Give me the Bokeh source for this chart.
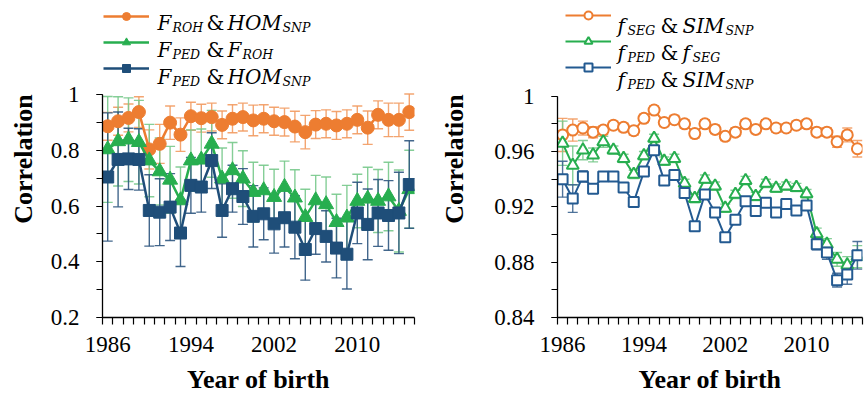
from bokeh.plotting import figure
from bokeh.layouts import row
from bokeh.models import (ColumnDataSource, Whisker, TeeHead, FixedTicker,
                          SingleIntervalTicker, Legend, LegendItem, Label,
                          Range1d, NumeralTickFormatter)
from bokeh.embed import file_html
from bokeh.resources import INLINE

# ---------------- data ----------------
years = list(range(1986, 2016))
x_tick_labels = [1986, 1994, 2002, 2010]

# left panel (correlations with SE)
roh_hom = [0.886, 0.904, 0.916, 0.937, 0.803, 0.823, 0.899, 0.856, 0.922, 0.915,
           0.919, 0.891, 0.913, 0.919, 0.907, 0.913, 0.904, 0.901, 0.885, 0.865,
           0.892, 0.895, 0.889, 0.895, 0.909, 0.881, 0.927, 0.909, 0.909, 0.937]
roh_hom_err = [0.05, 0.05, 0.05, 0.055, 0.07, 0.07, 0.06, 0.06, 0.05, 0.05,
               0.05, 0.05, 0.05, 0.05, 0.055, 0.05, 0.05, 0.05, 0.055, 0.06,
               0.05, 0.05, 0.05, 0.05, 0.05, 0.06, 0.05, 0.06, 0.06, 0.065]
ped_roh = [0.803, 0.832, 0.838, 0.829, 0.763, 0.724, 0.694, 0.620, 0.763, 0.766,
           0.823, 0.698, 0.728, 0.698, 0.650, 0.656, 0.632, 0.668, 0.630, 0.560,
           0.620, 0.606, 0.542, 0.558, 0.618, 0.626, 0.618, 0.634, 0.582, 0.660]
ped_roh_err = [0.19, 0.16, 0.15, 0.15, 0.13, 0.12, 0.12, 0.12, 0.11, 0.11,
               0.12, 0.11, 0.10, 0.10, 0.107, 0.09, 0.10, 0.093, 0.10, 0.10,
               0.09, 0.098, 0.10, 0.116, 0.096, 0.113, 0.113, 0.123, 0.147, 0.14]
ped_hom = [0.704, 0.767, 0.769, 0.767, 0.584, 0.578, 0.596, 0.503, 0.674, 0.668,
           0.763, 0.584, 0.662, 0.634, 0.563, 0.572, 0.536, 0.558, 0.524, 0.444,
           0.519, 0.491, 0.449, 0.427, 0.575, 0.534, 0.575, 0.566, 0.575, 0.677]
ped_hom_err = [0.23, 0.17, 0.11, 0.11, 0.128, 0.12, 0.12, 0.12, 0.10, 0.09,
               0.10, 0.096, 0.084, 0.10, 0.11, 0.093, 0.105, 0.105, 0.113, 0.11,
               0.092, 0.092, 0.107, 0.125, 0.11, 0.127, 0.12, 0.125, 0.146, 0.157]

# right panel
seg_sim = [0.972, 0.9755, 0.977, 0.974, 0.9755, 0.979, 0.9775, 0.975, 0.984, 0.990,
           0.981, 0.983, 0.980, 0.973, 0.980, 0.976, 0.971, 0.974, 0.980, 0.976,
           0.980, 0.977, 0.977, 0.979, 0.980, 0.974, 0.974, 0.967, 0.972, 0.962]
seg_sim_err = [0.012, 0.008, 0.005, 0.004, 0.003, 0.003, 0.003, 0.003, 0.003, 0.003,
               0.003, 0.003, 0.003, 0.003, 0.003, 0.003, 0.003, 0.003, 0.003, 0.003,
               0.003, 0.003, 0.003, 0.003, 0.003, 0.003, 0.003, 0.004, 0.005, 0.006]
ped_seg = [0.966, 0.950, 0.961, 0.9575, 0.967, 0.961, 0.955, 0.9435, 0.957, 0.9695,
           0.953, 0.955, 0.937, 0.926, 0.940, 0.935, 0.919, 0.929, 0.939, 0.9275,
           0.937, 0.9335, 0.935, 0.934, 0.9295, 0.9006, 0.893, 0.882, 0.878, 0.884]
ped_seg_err = [0.016, 0.014, 0.007, 0.005, 0.004, 0.003, 0.003, 0.003, 0.003, 0.003,
               0.003, 0.003, 0.003, 0.003, 0.003, 0.003, 0.003, 0.003, 0.003, 0.003,
               0.003, 0.003, 0.003, 0.003, 0.003, 0.004, 0.004, 0.005, 0.006, 0.008]
ped_sim = [0.940, 0.926, 0.942, 0.933, 0.942, 0.942, 0.934, 0.9235, 0.9455, 0.961,
           0.939, 0.943, 0.930, 0.906, 0.929, 0.916, 0.898, 0.9107, 0.924, 0.917,
           0.923, 0.916, 0.922, 0.9174, 0.921, 0.893, 0.887, 0.867, 0.871, 0.885]
ped_sim_err = [0.013, 0.010, 0.004, 0.003, 0.003, 0.003, 0.003, 0.003, 0.003, 0.003,
               0.003, 0.003, 0.003, 0.003, 0.003, 0.003, 0.003, 0.003, 0.003, 0.003,
               0.003, 0.003, 0.003, 0.003, 0.003, 0.004, 0.005, 0.005, 0.007, 0.010]

ORANGE = "#ED7D31"
GREEN = "#27AE4F"
NAVY = "#1F4E79"
BLUE2 = "#235A91"
TICK_FONT = "Liberation Serif"
LEG_FONT = "DejaVu Serif"


def make_fig(y0, y1, interval, frame, ylab_standoff):
    # frame = (left, right, top of axis (value y1), bottom) in canvas px;
    # the plotting frame extends to the canvas top so the legend can live in it.
    left, right, top, bottom = frame
    y_end = y0 + (y1 - y0) * bottom / (bottom - top)
    p = figure(width=432, height=398, output_backend="svg", toolbar_location=None,
               x_range=Range1d(years[0] - 0.5, years[-1] + 0.5),
               y_range=Range1d(y0, y_end),
               min_border_left=left, min_border_right=432 - right,
               min_border_top=0, min_border_bottom=398 - bottom)
    p.xgrid.visible = False
    p.ygrid.visible = False
    p.outline_line_color = None
    p.background_fill_color = "white"
    p.border_fill_color = "white"
    # x axis
    xa = p.xaxis[0]
    xa.ticker = FixedTicker(ticks=x_tick_labels,
                            minor_ticks=[y - 0.5 for y in years] + [years[-1] + 0.5])
    xa.major_tick_out = 0
    xa.major_tick_in = 0
    xa.minor_tick_out = 7
    xa.minor_tick_in = 0
    xa.axis_label = "Year of birth"
    # y axis
    ya = p.yaxis[0]
    ya.bounds = (y0, y1)
    ya.ticker = SingleIntervalTicker(interval=interval, num_minor_ticks=2)
    ya.formatter = NumeralTickFormatter(format="0.[00]")
    ya.major_tick_out = 6
    ya.major_tick_in = 0
    ya.minor_tick_out = 6
    ya.minor_tick_in = 0
    ya.axis_label = "Correlation"
    for ax in (xa, ya):
        ax.axis_line_color = "black"
        ax.axis_line_width = 1.3
        ax.major_tick_line_color = "black"
        ax.minor_tick_line_color = "black"
        ax.major_tick_line_width = 1.2
        ax.minor_tick_line_width = 1.2
        ax.major_label_text_font = TICK_FONT
        ax.major_label_text_font_size = "23px"
        ax.major_label_text_color = "black"
        ax.axis_label_text_font = TICK_FONT
        ax.axis_label_text_font_size = "26px"
        ax.axis_label_text_font_style = "bold"
        ax.axis_label_text_color = "black"
    xa.major_label_standoff = 12
    xa.axis_label_standoff = 10
    ya.major_label_standoff = 17
    ya.axis_label_standoff = ylab_standoff
    return p


def add_series(p, vals, errs, color, err_color, marker, size, fill, lw, mlw):
    src = ColumnDataSource(dict(x=years, y=vals,
                                lo=[v - e for v, e in zip(vals, errs)],
                                hi=[v + e for v, e in zip(vals, errs)]))
    w = Whisker(source=src, base="x", lower="lo", upper="hi", dimension="height",
                line_color=err_color, line_width=1.4, line_alpha=0.9,
                upper_head=TeeHead(size=10, line_color=err_color, line_width=1.4, line_alpha=0.9),
                lower_head=TeeHead(size=10, line_color=err_color, line_width=1.4, line_alpha=0.9),
                level="underlay")
    p.add_layout(w)
    ln = p.line("x", "y", source=src, line_color=color, line_width=lw)
    sc = p.scatter("x", "y", source=src, marker=marker, size=size,
                   fill_color=fill, line_color=color, line_width=mlw)
    return ln, sc


def add_legend(p, renderers, frame, x_canvas, y_top_canvas):
    left, right, top, bottom = frame
    items = [LegendItem(label=" ", renderers=list(r)) for r in renderers]
    leg = Legend(items=items,
                 location=(x_canvas - left, bottom - (y_top_canvas + 3 * 20 + 2 * 6)),
                 glyph_width=46, glyph_height=20, label_width=0, label_standoff=0,
                 label_height=20, label_text_font_size="1px",
                 padding=0, margin=0, spacing=6,
                 border_line_color=None, background_fill_alpha=0)
    p.add_layout(leg)


def add_text(p, frame, rows):
    left, right, top, bottom = frame
    for baseline, segs in rows:
        for text, xc, kind in segs:
            if kind == "main":
                size, style, dy = "20px", "italic", 0
            elif kind == "sub":
                size, style, dy = "12.5px", "italic", 5
            else:
                size, style, dy = "20px", "normal", 0
            p.add_layout(Label(x=xc - left, y=bottom - (baseline + dy),
                               x_units="screen", y_units="screen", text=text,
                               text_font=LEG_FONT, text_font_style=style,
                               text_font_size=size, text_baseline="alphabetic",
                               text_color="black"))


# ---------------- left panel ----------------
frameL = (102, 414, 94, 317)
pL = make_fig(0.2, 1.0, 0.2, frameL, 10)
rA = add_series(pL, roh_hom, roh_hom_err, ORANGE, "#F29B62", "circle", 13, ORANGE, 2.5, 1)
rB = add_series(pL, ped_roh, ped_roh_err, GREEN, "#78C98C", "triangle", 15, GREEN, 2.5, 1)
rC = add_series(pL, ped_hom, ped_hom_err, NAVY, "#2F5680", "square", 12, NAVY, 2.5, 1)
add_legend(pL, [rA, rB, rC], frameL, 103, 6)
add_text(pL, frameL, [
    (22, [("F", 157, "main"), ("ROH", 172, "sub"), ("&", 206, "amp"), ("HOM", 227, "main"), ("SNP", 282, "sub")]),
    (49, [("F", 157, "main"), ("PED", 172, "sub"), ("&", 206, "amp"), ("F", 227, "main"), ("ROH", 242, "sub")]),
    (76, [("F", 157, "main"), ("PED", 172, "sub"), ("&", 206, "amp"), ("HOM", 227, "main"), ("SNP", 282, "sub")]),
])

# ---------------- right panel ----------------
frameR = (125, 430, 96, 318)
pR = make_fig(0.84, 1.0, 0.04, frameR, 22)
sA = add_series(pR, seg_sim, seg_sim_err, ORANGE, "#F29B62", "circle", 11, "white", 2, 2)
sB = add_series(pR, ped_seg, ped_seg_err, GREEN, "#78C98C", "triangle", 12, "white", 2, 2)
sC = add_series(pR, ped_sim, ped_sim_err, BLUE2, "#3D6590", "square", 10, "white", 2, 2)
add_legend(pR, [sA, sB, sC], frameR, 133, 6)
add_text(pR, frameR, [
    (26, [("f", 617 - 432, "main"), ("SEG", 627 - 432, "sub"), ("&", 660 - 432, "amp"), ("SIM", 682 - 432, "main"), ("SNP", 725 - 432, "sub")]),
    (53, [("f", 617 - 432, "main"), ("PED", 627 - 432, "sub"), ("&", 660 - 432, "amp"), ("f", 682 - 432, "main"), ("SEG", 692 - 432, "sub")]),
    (80, [("f", 617 - 432, "main"), ("PED", 627 - 432, "sub"), ("&", 660 - 432, "amp"), ("SIM", 682 - 432, "main"), ("SNP", 725 - 432, "sub")]),
])

layout = row(pL, pR)
open("out.html", "w").write(file_html(layout, INLINE))
